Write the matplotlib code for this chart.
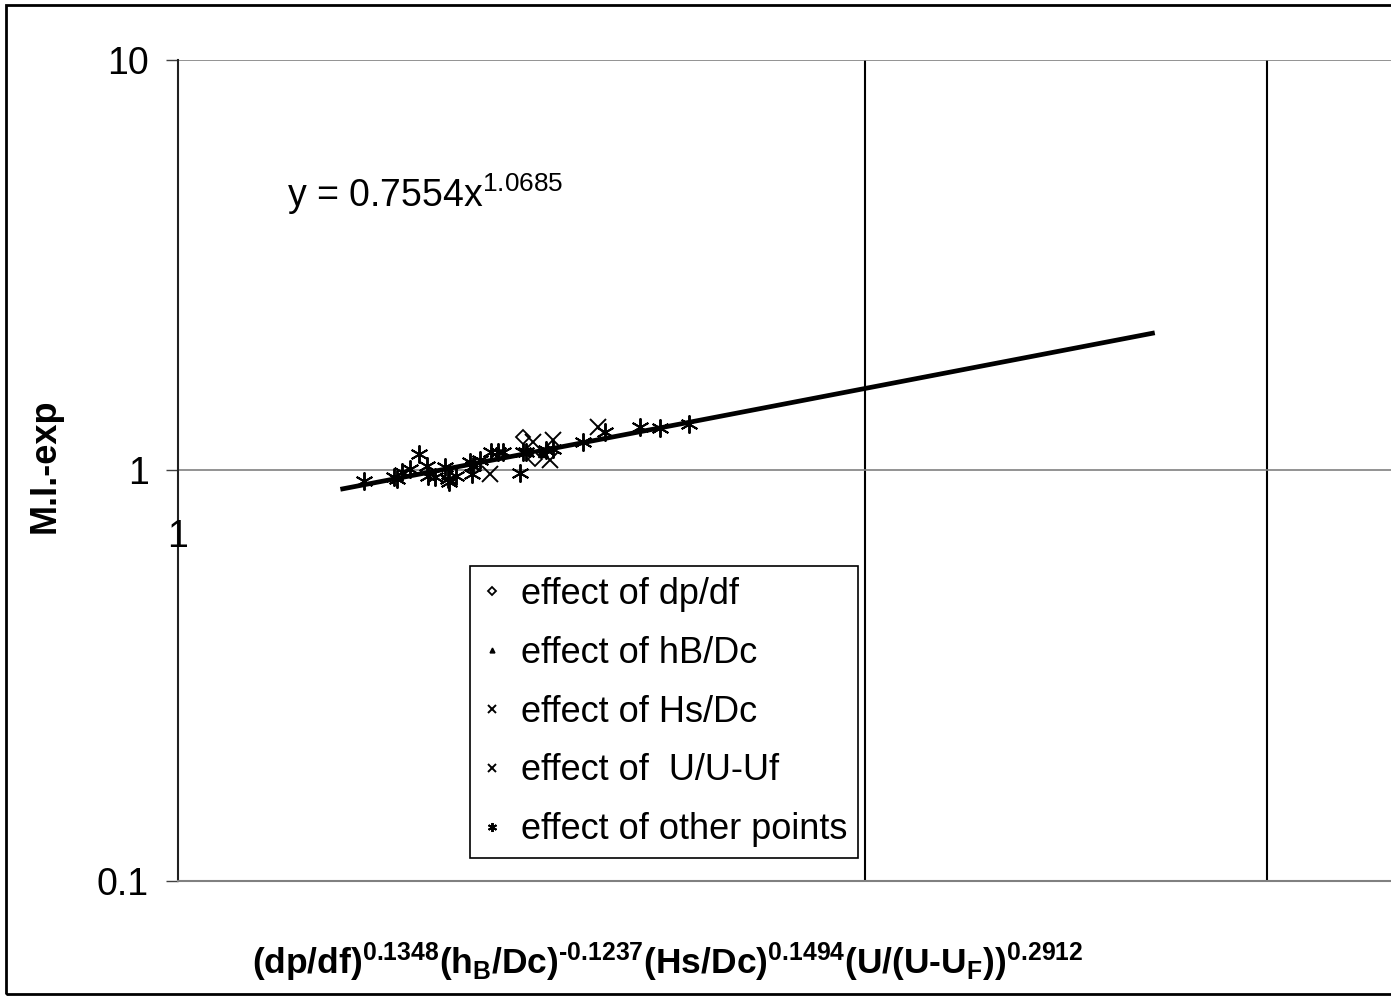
import numpy as np
import matplotlib.pyplot as plt
from matplotlib.patches import Rectangle
from matplotlib.ticker import FixedLocator, NullLocator

plt.rcParams['font.family'] = ['Liberation Sans', 'DejaVu Sans']
plt.rcParams['mathtext.default'] = 'regular'

# data (x = grouped parameter, y = M.I.-exp)
dpdf_x = [1.416, 1.434]
dpdf_y = [1.206, 1.068]

hb_x = [1.445]
hb_y = [1.108]

hs_x = [1.370, 1.455, 1.527]
hs_y = [0.982, 1.058, 1.275]

uf_x = [1.431, 1.460]
uf_y = [1.172, 1.184]

other_x = [1.206, 1.243, 1.247, 1.253, 1.264, 1.275, 1.285, 1.287, 1.296, 1.309,
           1.313, 1.315, 1.324, 1.342, 1.345, 1.347, 1.356, 1.372, 1.381, 1.388,
           1.412, 1.416, 1.421, 1.450, 1.460, 1.505, 1.538, 1.594, 1.626, 1.674]
other_y = [0.945, 0.963, 0.956, 0.990, 1.010, 1.094, 1.028, 0.972, 0.963, 1.019,
           0.954, 0.936, 0.972, 1.048, 0.982, 1.028, 1.058, 1.108, 1.108, 1.108,
           0.985, 1.108, 1.108, 1.119, 1.130, 1.172, 1.240, 1.275, 1.270, 1.295]

# power trendline y = a x^b
fit_a = 0.7554
fit_b = 1.0685
fit_x = np.array([1.178, 2.679])
fit_y = fit_a * fit_x ** fit_b

fig = plt.figure(figsize=(13.91, 9.96), dpi=100)
ax = fig.add_axes([178 / 1391, 115 / 996, 1 - 178 / 1391, 821 / 996])
ax.set_xscale('log')
ax.set_yscale('log')
ax.set_xlim(1, 3.40)
ax.set_ylim(0.1, 10)

ax.plot(fit_x, fit_y, color='black', lw=3.4, solid_capstyle='butt', zorder=3)

mk = dict(linestyle='none', color='black', zorder=4)
star = (6, 2, 0)
ax.plot(dpdf_x, dpdf_y, marker='D', ms=7.5, mfc='white', mew=1.3,
        label='effect of dp/df', **mk)
ax.plot(hb_x, hb_y, marker='^', ms=7, label='effect of hB/Dc', **mk)
ax.plot(hs_x, hs_y, marker='x', ms=12, mew=1.4, label='effect of Hs/Dc', **mk)
ax.plot(uf_x, uf_y, marker='x', ms=12, mew=1.4, label='effect of  U/U-Uf', **mk)
ax.plot(other_x, other_y, marker=star, ms=13, mew=1.4,
        label='effect of other points', **mk)

# grid
ax.xaxis.set_major_locator(FixedLocator([2, 3]))
ax.xaxis.set_minor_locator(NullLocator())
ax.yaxis.set_major_locator(FixedLocator([0.1, 1, 10]))
ax.yaxis.set_minor_locator(NullLocator())
ax.set_yticklabels(['0.1', '1', '10'])
ax.set_xticklabels([])
ax.tick_params(axis='x', length=0)
ax.tick_params(axis='y', length=9, width=1, color='#404040', pad=12, labelsize=27)
ax.grid(axis='y', color='#808080', lw=1.2)
ax.grid(axis='x', color='black', lw=1.5)
ax.set_axisbelow(True)

for s in ['top', 'right']:
    ax.spines[s].set_visible(False)
ax.spines['left'].set_color('#202020')
ax.spines['left'].set_linewidth(1.5)
ax.spines['bottom'].set_color('#808080')
ax.spines['bottom'].set_linewidth(1.5)

# stray x tick label "1"
ax.text(1.0, 0.419, '1', transform=ax.get_xaxis_transform(), ha='center',
        va='center', fontsize=27)

ax.text(0.0899, 0.836, 'y = 0.7554x$^{1.0685}$', transform=ax.transAxes,
        fontsize=27, ha='left', va='center')

fig.text(45 / 1391, 1 - 466 / 996, 'M.I.-exp', rotation=90, fontsize=26,
         fontweight='bold', ha='center', va='center')
fig.text(668 / 1391, 1 - 962 / 996,
         '(dp/df)$^{0.1348}$(h$_B$/Dc)$^{\u20100.1237}$(Hs/Dc)$^{0.1494}$(U/(U-U$_F$))$^{0.2912}$',
         fontsize=25.5, fontweight='bold', ha='center', va='center')

leg = ax.legend(loc='lower left', bbox_to_anchor=(0.2407, 0.028), fontsize=26,
                markerscale=0.5, frameon=True, fancybox=False, framealpha=1,
                edgecolor='black', handlelength=0.6, handletextpad=0.5,
                labelspacing=0.66, borderpad=0.3, borderaxespad=0)
leg.get_frame().set_linewidth(1.2)

fig.add_artist(Rectangle((6 / 1391, 2 / 996), 1.2, 989 / 996, transform=fig.transFigure,
                         fill=False, ec='black', lw=2))

fig.savefig('out.png', dpi=100)
